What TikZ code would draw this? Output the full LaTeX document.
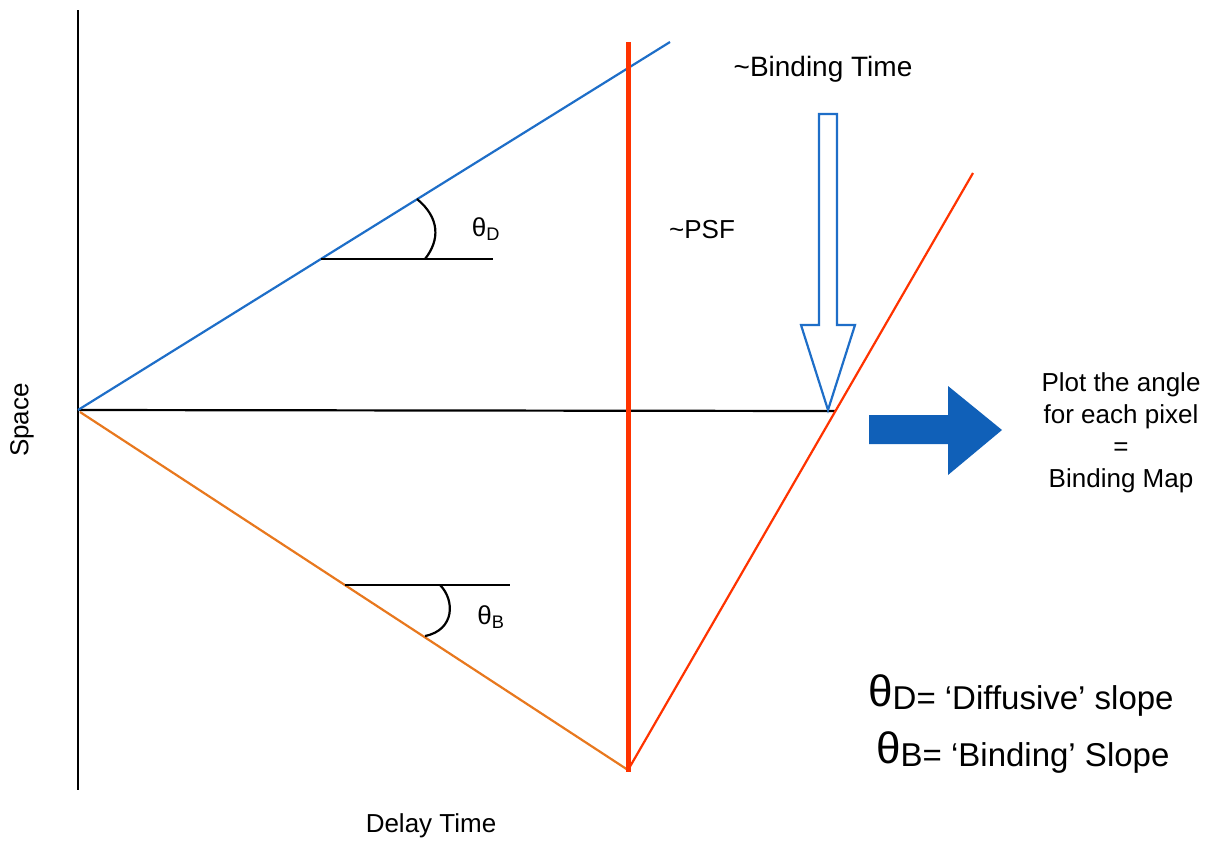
\documentclass[tikz,border=0pt]{standalone}
\usepackage{fontspec}
\setmainfont{Liberation Sans}
\begin{document}
\begin{tikzpicture}[x=1pt,y=-1pt,
  lbl/.style={inner sep=0pt,font=\fontsize{26}{30}\selectfont},
  axisline/.style={line width=2.2pt,black},
  blueline/.style={line width=2.2pt,color=lineblue},
  orangeline/.style={line width=2.2pt,color=lineorange},
  redline/.style={line width=2.2pt,color=linered},
  angleline/.style={line width=2.2pt,black}]
\definecolor{lineblue}{HTML}{1E6EC8}
\definecolor{lineorange}{HTML}{E8781E}
\definecolor{linered}{HTML}{FF3300}
\definecolor{arrowblue}{HTML}{1060B8}
\useasboundingbox (0,0) rectangle (1217,841);
% coordinates
\coordinate (ytop) at (78,10);
\coordinate (ybot) at (78,790);
\coordinate (O) at (78,410);
\coordinate (hend) at (835,411);
\coordinate (bend) at (670,42);
\coordinate (obot) at (628,770);
\coordinate (rtop) at (628,42);
\coordinate (rbot) at (628,772);
\coordinate (rend) at (973,173);
% axes
\draw[axisline] (ytop) -- (ybot);
\draw[axisline] (O) -- (hend);
% lines
\draw[blueline] (O) -- (bend);
\draw[orangeline] (80,412) -- (obot);
\draw[line width=5pt,color=linered] (rtop) -- (rbot);
\draw[redline] (obot) -- (rend);
% theta D
\coordinate (dA) at (321,259);
\coordinate (dB) at (493,259);
\draw[angleline] (dA) -- (dB);
\draw[angleline] (417,199) .. controls (440,218) and (440,240) .. (425,259);
\node[lbl] (thD) at (486,229) {θ\textsubscript{D}};
% theta B
\coordinate (bA) at (345,585);
\coordinate (bB) at (510,585);
\draw[angleline] (bA) -- (bB);
\draw[angleline] (440,585) .. controls (455,600) and (455,630) .. (425,636);
\node[lbl] (thB) at (491,617) {θ\textsubscript{B}};
% labels
\node[lbl] (psf) at (702,230) {\textasciitilde PSF};
\node[lbl,font=\fontsize{28}{30}\selectfont] (bt) at (823,69) {\textasciitilde Binding Time};
\node[lbl,rotate=90] (space) at (22,420) {Space};
\node[lbl] (delay) at (431,826) {Delay Time};
% hollow arrow
\draw[line width=2.2pt,color=lineblue,fill=white,line join=miter]
  (819,114) -- (837,114) -- (837,325) -- (855,325) -- (828,410) -- (801,325) -- (819,325) -- cycle;
% filled arrow
\fill[arrowblue] (869,415) -- (948,415) -- (948,386) -- (1002,430) -- (948,475) -- (948,444) -- (869,444) -- cycle;
% text block
\node[lbl,align=center,font=\fontsize{26}{32}\selectfont] (plot) at (1121,433)
  {Plot the angle\\for each pixel\\=\\Binding Map};
% legend
\node[anchor=west,inner sep=0pt] (legD) at (868,695)
  {\fontsize{44}{44}\selectfont θ\raisebox{-3pt}{\fontsize{33}{33}\selectfont D= ‘Diffusive’ slope}};
\node[anchor=west,inner sep=0pt] (legB) at (876,752)
  {\fontsize{44}{44}\selectfont θ\raisebox{-3pt}{\fontsize{33}{33}\selectfont B= ‘Binding’ Slope}};
\end{tikzpicture}
\end{document}
